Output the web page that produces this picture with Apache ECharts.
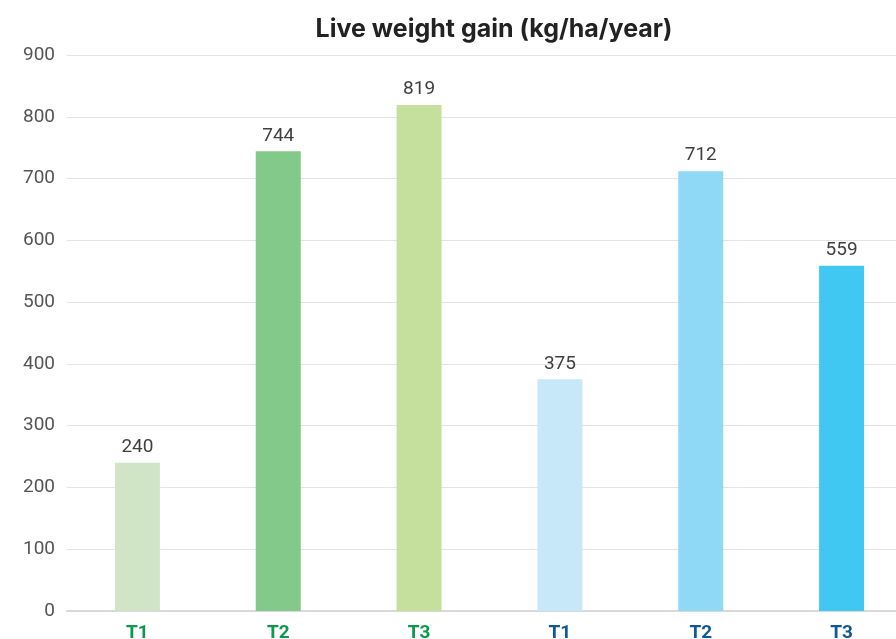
<!DOCTYPE html>
<html>
<head>
<meta charset="utf-8">
<script src="https://cdn.jsdelivr.net/npm/echarts@6/dist/echarts.min.js"></script>
<style>
html, body { margin: 0; padding: 0; background: #fff; }
#main { width: 896px; height: 639px; }
</style>
</head>
<body>
<div id="main"></div>
<script>
// data
var categories = ['T1', 'T2', 'T3', 'T1', 'T2', 'T3'];
var values = [240, 744, 819, 375, 712, 559];
var barColors = ['#cfe5c5', '#83c98a', '#c5e09c', '#c6e8f8', '#8fd8f6', '#41c8f2'];
var labelColors = ['#0b9a4c', '#0b9a4c', '#0b9a4c', '#0f5a96', '#0f5a96', '#0f5a96'];

var chart = echarts.init(document.getElementById('main'));

var seriesData = [];
for (var i = 0; i < values.length; i++) {
	seriesData.push({
		value: values[i],
		itemStyle: { color: barColors[i] }
	});
}

chart.setOption({
	animation: false,
	title: {
		text: 'Live weight gain (kg/ha/year)',
		left: 489,
		top: 12,
		textAlign: 'center',
		textStyle: {
			fontFamily: 'Inter',
			fontSize: 25,
			fontWeight: 'bold',
			color: '#222'
		}
	},
	grid: {
		left: 67,
		width: 845,
		top: 55,
		bottom: 28,
		outerBoundsMode: 'none',
		containLabel: false
	},
	xAxis: {
		type: 'category',
		data: categories,
		axisTick: { show: false },
		axisLine: { lineStyle: { color: '#d9d9d9', width: 2 } },
		axisLabel: {
			margin: 13,
			fontFamily: 'Roboto',
			fontSize: 19,
			fontWeight: 'bold',
			color: function (v, idx) { return labelColors[idx]; }
		}
	},
	yAxis: {
		type: 'value',
		min: 0,
		max: 900,
		interval: 100,
		axisLine: { show: false },
		axisTick: { show: false },
		splitLine: { lineStyle: { color: '#e3e3e3', width: 1 } },
		axisLabel: {
			margin: 12,
			fontFamily: 'Roboto',
			fontSize: 19,
			color: '#555'
		}
	},
	series: [{
		type: 'bar',
		barWidth: 45,
		data: seriesData,
		label: {
			show: true,
			position: 'top',
			distance: 6,
			fontFamily: 'Roboto',
			fontSize: 19,
			color: '#404040'
		}
	}]
});
</script>
</body>
</html>
